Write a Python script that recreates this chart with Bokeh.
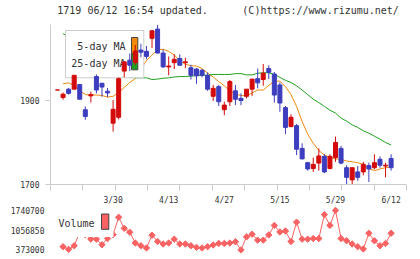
import math
from bokeh.plotting import figure
from bokeh.models import Range1d, LinearAxis, FixedTicker
from bokeh.layouts import column
from bokeh.embed import file_html
from bokeh.resources import INLINE
from bokeh.core.properties import value

NA = float("nan")

# ---------------- data ----------------
dates = ["3/13", "3/16", "3/17", "3/18", "3/19", "3/23", "3/24", "3/25", "3/26", "3/27",
         "3/30", "3/31", "4/1", "4/2", "4/3", "4/6", "4/7", "4/8", "4/9", "4/10",
         "4/13", "4/14", "4/15", "4/16", "4/17", "4/20", "4/21", "4/22", "4/23", "4/24",
         "4/27", "4/28", "4/30", "5/1", "5/7", "5/8", "5/11", "5/12", "5/13", "5/14",
         "5/15", "5/18", "5/19", "5/20", "5/21", "5/22", "5/25", "5/26", "5/27", "5/28",
         "5/29", "6/1", "6/2", "6/3", "6/4", "6/5", "6/8", "6/9", "6/10", "6/11", "6/12"]
opens = [1925, 1907, 1927, 1927, 1938, 1878, 1911, 1957, 1941, 1922,
         1846, 1860, 1970, 1996, 1990, 2020, 2017, 2048, 2070, 2013,
         1980, 1990, 2000, 1990, 1978, 1975, 1972, 1960, 1910, 1933,
         1878, 1897, 1923, 1905, 1910, 1927, 1952, 1950, 1976, 1963,
         1937, 1883, 1838, 1840, 1786, 1752, 1738, 1751, 1767, 1738,
         1764, 1786, 1740, 1711, 1730, 1730, 1745, 1740, 1760, 1744, 1762]
highs = [1925, 1919, 1930, 1960, 1938, 1886, 1921, 1962, 1942, 1930,
         1901, 1955, 1993, 2012, 2032, 2035, 2030, 2067, 2080, 2022,
         2005, 2010, 2010, 2002, 1985, 1977, 1975, 1967, 1937, 1937,
         1897, 1949, 1937, 1917, 1927, 1951, 1976, 1987, 1984, 1968,
         1943, 1887, 1867, 1844, 1798, 1754, 1764, 1786, 1772, 1772,
         1814, 1792, 1746, 1740, 1744, 1754, 1752, 1772, 1767, 1752, 1772]
lows = [1925, 1902, 1914, 1927, 1903, 1854, 1895, 1917, 1909, 1908,
        1826, 1855, 1955, 1970, 1985, 2003, 1998, 2025, 2012, 1978,
        1960, 1975, 1983, 1977, 1950, 1940, 1955, 1923, 1899, 1887,
        1865, 1887, 1889, 1889, 1905, 1911, 1929, 1935, 1951, 1895,
        1873, 1820, 1836, 1770, 1760, 1733, 1730, 1733, 1727, 1736,
        1754, 1748, 1700, 1701, 1709, 1722, 1706, 1736, 1740, 1717, 1733]
closes = [1925, 1915, 1917, 1960, 1903, 1862, 1914, 1925, 1932, 1918,
          1879, 1952, 1992, 1984, 2018, 2015, 2005, 2066, 2013, 1980,
          1982, 1998, 1984, 1992, 1960, 1959, 1960, 1927, 1929, 1897,
          1889, 1945, 1903, 1900, 1927, 1951, 1942, 1965, 1967, 1913,
          1894, 1836, 1860, 1784, 1761, 1737, 1748, 1768, 1730, 1767,
          1800, 1751, 1717, 1740, 1717, 1748, 1737, 1752, 1746, 1746, 1740]
ma5 = [NA, 1940, 1942, 1936, 1923, 1914, 1913, 1913, 1912, 1908,
       1910, 1919, 1931, 1943, 1952, 1975, 1995, 2008, 2021, 2022,
       2017, 2008, 1995, 1986, 1983, 1982, 1976, 1965, 1956, 1945,
       1935, 1923, 1915, 1912, 1911, 1918, 1925, 1925, 1936, 1946,
       1946, 1933, 1914, 1886, 1850, 1820, 1798, 1781, 1770, 1765,
       1761, 1760, 1756, 1754, 1752, 1748, 1738, 1733, 1737, 1740, 1741]
ma25 = [NA, 2059, 2052, 2044, 2035, 2026, 2016, 2006, 1996, 1986,
        1977, 1968, 1960, 1955, 1954, 1954, 1954, 1950, 1951, 1953,
        1954, 1956, 1957, 1957, 1958, 1959, 1960, 1960, 1962, 1962,
        1962, 1962, 1964, 1964, 1961, 1961, 1965, 1966, 1966, 1962,
        1955, 1948, 1943, 1935, 1925, 1914, 1903, 1895, 1886, 1877,
        1870, 1858, 1851, 1842, 1836, 1828, 1822, 1815, 1808, 1800, 1794]
volumes = [NA, 485000, 393000, 519000, 980000, 900000, 746000, 746000, 553000, 767000,
           902000, 1503000, 1120000, 984000, 611000, 519000, 441000, 882000, 665000, 577000,
           611000, 746000, 577000, 577000, 519000, 461000, 441000, 485000, 543000, 597000,
           597000, 611000, 655000, 373000, 824000, 916000, 712000, 712000, 892000, 1221000,
           994000, 1028000, 665000, 1334000, 746000, 746000, 767000, 767000, 1595000, 1221000,
           1740700, 767000, 689000, 577000, 485000, 407000, 950000, 689000, 519000, 597000, 950000]
price_ticks = [1700, 1900]
vol_ticks = [373000, 1056850, 1740700]
vol_tick_labels = ["373000", "1056850", "1740700"]
date_tick_idx = [10, 20, 30, 40, 50, 60]
header_left = "1719 06/12 16:54 updated."
header_right = "(C)https://www.rizumu.net/"

# ---------------- styling / geometry ----------------
FONT = "DejaVu Sans Mono"
TXT = "#333333"
AXC = "#cccccc"
UP = "#d40a0a"
DOWN = "#3d3dbf"
ORANGE = "#f08a0c"
GREEN = "#1ea01e"
VOLC = "#f86262"

X0_PX, DX_PX = 57.0, 5.56


def ix(px):
    return (px - X0_PX) / DX_PX


P_PER_PX = 200.0 / 84.0


def py(pix):
    return 1900 + (100 - pix) * P_PER_PX


V_PER_PX = (1740700 - 373000) / 40.3


def vy(pix):
    return 373000 + (249.3 - pix) * V_PER_PX


N = len(dates)
idx = list(range(N))
colors = [UP if c >= o else DOWN for o, c in zip(opens, closes)]
tops = [max(o, c) for o, c in zip(opens, closes)]
bots = [min(o, c) for o, c in zip(opens, closes)]

xr = Range1d(ix(50), ix(406))

# ---------------- header strip ----------------
hf = figure(width=420, height=20, x_range=Range1d(0, 420), y_range=Range1d(20, 0),
            output_backend="svg", toolbar_location=None,
            x_axis_type=None, y_axis_type=None,
            min_border_left=0, min_border_right=0, min_border_top=0, min_border_bottom=0)
hf.outline_line_color = None
hf.background_fill_color = "white"
hf.border_fill_color = "white"
hf.text(x=[8], y=[9.5], text=[header_left], text_align="left", text_baseline="middle",
        text_font=value(FONT), text_font_size="10px", text_color=TXT)
hf.text(x=[411], y=[9.5], text=[header_right], text_align="right", text_baseline="middle",
        text_font=value(FONT), text_font_size="10px", text_color=TXT)

# ---------------- main price chart ----------------
p = figure(width=420, height=172, x_range=xr, y_range=Range1d(py(184), py(24)),
           output_backend="svg", toolbar_location=None,
           x_axis_type=None, y_axis_type=None,
           min_border_left=50, min_border_right=14, min_border_top=4, min_border_bottom=8)
p.outline_line_color = None
p.background_fill_color = "white"
p.border_fill_color = "white"

ya = LinearAxis(ticker=FixedTicker(ticks=price_ticks), major_tick_out=5, major_tick_in=0,
                minor_tick_out=0, minor_tick_in=0, axis_line_color=AXC,
                major_tick_line_color=AXC, major_label_text_font=FONT,
                major_label_text_font_size="8px", major_label_text_color=TXT,
                major_label_standoff=6)
p.add_layout(ya, "left")

# 12 evenly spaced bottom tick marks (minor ticks, so no labels)
p.extra_x_ranges = {"grid": Range1d(0, 11)}
xa = LinearAxis(x_range_name="grid", ticker=FixedTicker(ticks=[], minor_ticks=list(range(12))),
                major_tick_out=0, major_tick_in=0, minor_tick_out=6, minor_tick_in=0,
                axis_line_color=AXC, minor_tick_line_color=AXC, major_label_standoff=0)
p.add_layout(xa, "below")

p.line(idx, ma5, color=ORANGE, line_width=1)
p.line(idx, ma25, color=GREEN, line_width=1)

# legend box (under the candles, over the MA lines)
p.quad(left=[ix(65)], right=[ix(143.3)], top=[py(30)], bottom=[py(77.3)],
       fill_color="white", line_color="#cccccc", line_width=1)
p.text(x=[ix(125), ix(125)], y=[py(45.5), py(62.5)], text=["5-day MA", "25-day MA"],
       text_align="right", text_baseline="middle", text_font=value(FONT),
       text_font_size="10px", text_color=TXT)
p.quad(left=[ix(131), ix(131)], right=[ix(137.3), ix(137.3)],
       top=[py(37), py(53)], bottom=[py(53), py(69.3)],
       fill_color=[ORANGE, GREEN], line_color="#444444", line_width=1)

p.segment(x0=idx, y0=lows, x1=idx, y1=highs, color=colors, line_width=1)
p.vbar(x=idx, width=0.72, top=tops, bottom=bots, fill_color=colors,
       line_color=colors, line_width=1)

# ---------------- volume chart ----------------
p2 = figure(width=420, height=67, x_range=xr, y_range=Range1d(vy(256), vy(203)),
            output_backend="svg", toolbar_location=None,
            x_axis_type=None, y_axis_type=None,
            min_border_left=50, min_border_right=14, min_border_top=11, min_border_bottom=3)
p2.outline_line_color = None
p2.background_fill_color = "white"
p2.border_fill_color = "white"

va = LinearAxis(ticker=FixedTicker(ticks=vol_ticks),
                major_label_overrides={t: s for t, s in zip(vol_ticks, vol_tick_labels)},
                major_tick_out=0, major_tick_in=0, minor_tick_out=0, minor_tick_in=0,
                axis_line_color=None, major_label_text_font=FONT,
                major_label_text_font_size="8px", major_label_text_color=TXT,
                major_label_standoff=6)
p2.add_layout(va, "left")

da = LinearAxis(ticker=FixedTicker(ticks=date_tick_idx),
                major_label_overrides={t: dates[t] for t in date_tick_idx},
                major_tick_out=0, major_tick_in=0, minor_tick_out=0, minor_tick_in=0,
                axis_line_color=None, major_label_text_font=FONT,
                major_label_text_font_size="8px", major_label_text_color=TXT,
                major_label_standoff=0)
p2.add_layout(da, "above")

p2.line(idx, volumes, color=VOLC, line_width=1)
p2.scatter(idx, volumes, marker="square", angle=math.pi / 4, size=4.5,
           fill_color=VOLC, line_color=VOLC)

p2.quad(left=[ix(56)], right=[ix(113)], top=[vy(208)], bottom=[vy(236)],
        fill_color="white", line_color=None)
p2.text(x=[ix(58)], y=[vy(222.5)], text=["Volume"], text_align="left",
        text_baseline="middle", text_font=value(FONT), text_font_size="10px",
        text_color=TXT)
p2.quad(left=[ix(101)], right=[ix(108.3)], top=[vy(212.7)], bottom=[vy(228.3)],
        fill_color=VOLC, line_color="#444444", line_width=1)

layout = column(hf, p, p2, spacing=0)
open("out.html", "w").write(file_html(layout, INLINE))
